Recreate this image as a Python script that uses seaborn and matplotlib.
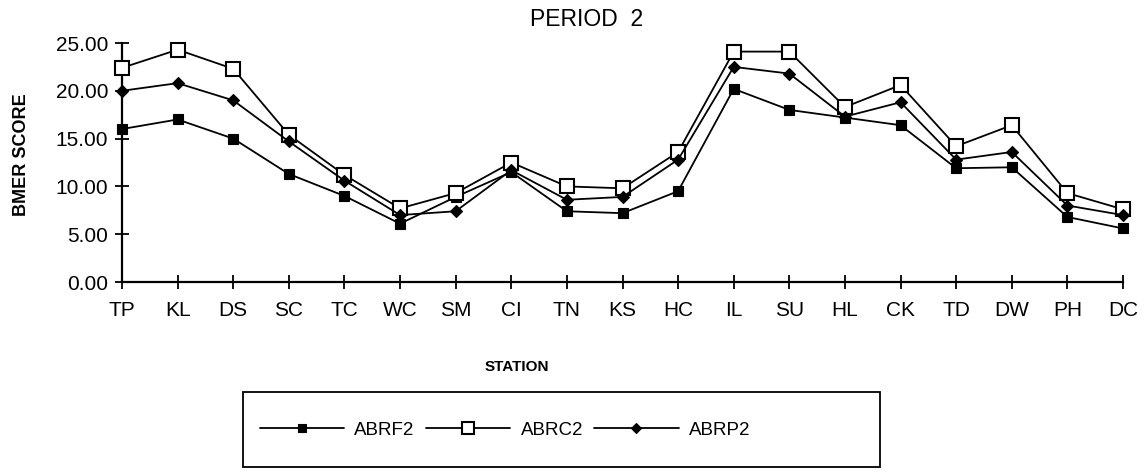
import numpy as np
import pandas as pd
import matplotlib
matplotlib.use("Agg")
import matplotlib.pyplot as plt
from matplotlib.patches import Rectangle
import seaborn as sns

# Station codes along the x axis
stations = ["TP", "KL", "DS", "SC", "TC", "WC", "SM", "CI", "TN", "KS",
            "HC", "IL", "SU", "HL", "CK", "TD", "DW", "PH", "DC"]

# Scores per station for each series
abrf2 = [16.0, 17.0, 15.0, 11.3, 9.0, 6.1, 8.9, 11.5, 7.4, 7.2,
         9.5, 20.2, 18.0, 17.2, 16.4, 11.9, 12.0, 6.8, 5.6]
abrc2 = [22.4, 24.3, 22.3, 15.4, 11.2, 7.7, 9.3, 12.5, 10.0, 9.8,
         13.6, 24.1, 24.1, 18.3, 20.6, 14.2, 16.4, 9.3, 7.6]
abrp2 = [20.0, 20.8, 19.0, 14.7, 10.6, 7.0, 7.4, 11.7, 8.6, 8.9,
         12.8, 22.5, 21.8, 17.3, 18.8, 12.8, 13.6, 8.0, 7.0]

series_names = ["ABRF2", "ABRC2", "ABRP2"]
yticks = [0, 5, 10, 15, 20, 25]

sns.set_theme(style="white")
plt.rcParams["font.family"] = ["Liberation Sans", "DejaVu Sans"]

W, H = 1147, 473
fig = plt.figure(figsize=(W / 100, H / 100), dpi=100)
ax = fig.add_axes([122 / W, 1 - 282 / H, (1123 - 122) / W, (282 - 43) / H])

pos = np.arange(len(stations))
df = pd.DataFrame({
    "pos": np.tile(pos, 3),
    "score": abrf2 + abrc2 + abrp2,
    "series": np.repeat(series_names, len(stations)),
})

styles = {
    "ABRF2": dict(marker="s", markersize=6.5, markerfacecolor="black",
                  markeredgecolor="black", markeredgewidth=0.8),
    "ABRC2": dict(marker="s", markersize=10, markerfacecolor="white",
                  markeredgecolor="black", markeredgewidth=1.5),
    "ABRP2": dict(marker="D", markersize=6, markerfacecolor="black",
                  markeredgecolor="black", markeredgewidth=0.8),
}

handles = []
for name in series_names:
    sub = df[df["series"] == name]
    sns.lineplot(data=sub, x="pos", y="score", ax=ax, color="black",
                 linewidth=1.3, clip_on=False, zorder=3, **styles[name])
    handles.append(ax.lines[-1])

ax.set_xlim(0, len(stations) - 1)
ax.set_ylim(0, 25)
ax.set_xticks(pos)
ax.set_xticklabels(stations)
ax.set_yticks(yticks)
ax.set_yticklabels([f"{v:.2f}" for v in yticks])

for side in ["top", "right"]:
    ax.spines[side].set_visible(False)
for side in ["left", "bottom"]:
    ax.spines[side].set_color("black")
    ax.spines[side].set_linewidth(1.6)

ax.tick_params(axis="both", which="major", direction="inout", length=10,
               width=1.3, color="black", labelcolor="black",
               bottom=True, left=True)
ax.tick_params(axis="x", pad=9, labelsize=15)
ax.tick_params(axis="y", pad=5, labelsize=15)
ax.set_xlabel("")
ax.set_ylabel("")
ax.grid(False)

fig.text(587 / W, 1 - 19 / H, "PERIOD  2", ha="center", va="center",
         fontsize=16.5, color="black")
fig.text(517 / W, 1 - 367 / H, "STATION", ha="center", va="center",
         fontsize=11, fontweight="bold", color="black")
fig.text(22 / W, 1 - 155 / H, "BMER SCORE", ha="center", va="center",
         rotation=90, fontsize=13, fontweight="bold", color="black")

# Legend frame and entries
fig.patches.append(Rectangle((243 / W, 1 - 467 / H), (880 - 243) / W, (467 - 392) / H,
                             transform=fig.transFigure, fill=False,
                             edgecolor="black", linewidth=1.3))
leg = fig.legend(handles, series_names, loc="center",
                 bbox_to_anchor=(505 / W, 1 - 430 / H), ncol=3, frameon=False,
                 handlelength=4.5, handletextpad=0.55, columnspacing=0.6,
                 numpoints=1, fontsize=13.5, markerscale=0.8)
for t in leg.get_texts():
    t.set_color("black")

fig.savefig("out.png", dpi=100, facecolor="white")
